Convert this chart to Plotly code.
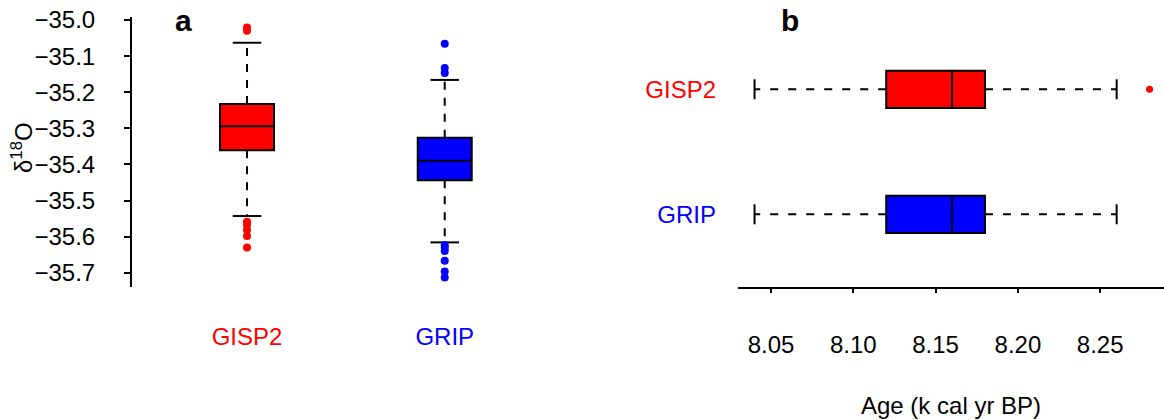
import plotly.graph_objects as go

# ---- Panel a: d18O summary per core ----
a_groups = ["GISP2", "GRIP"]
a_colors = ["#ff0000", "#0000ff"]
a_lower = [-35.543, -35.616]
a_q1 = [-35.361, -35.444]
a_median = [-35.294, -35.390]
a_q3 = [-35.233, -35.326]
a_upper = [-35.063, -35.166]
a_outliers = [
    [-35.021, -35.030, -35.559, -35.567, -35.582, -35.598, -35.630],
    [-35.066, -35.133, -35.147, -35.623, -35.630, -35.640, -35.667, -35.697, -35.713],
]
a_ticks = [-35.0, -35.1, -35.2, -35.3, -35.4, -35.5, -35.6, -35.7]

# ---- Panel b: age summary per core ----
b_groups = ["GISP2", "GRIP"]
b_colors = ["#ff0000", "#0000ff"]
b_lower = [8.04, 8.04]
b_q1 = [8.12, 8.12]
b_median = [8.16, 8.16]
b_q3 = [8.18, 8.18]
b_upper = [8.26, 8.26]
b_outliers = [[8.28], []]
b_ticks = [8.05, 8.10, 8.15, 8.20, 8.25]

W, H = 1164, 420
FONT = "Liberation Sans, Arial, sans-serif"


def fx(px):
    return px / W


def fy(py):
    return 1 - py / H


fig = go.Figure()

# panel a boxes (vertical)
a_pos = [i + 1 for i in range(len(a_groups))]
a_box_w = 0.273
a_cap_w = 0.072
for i, g in enumerate(a_groups):
    p = a_pos[i]
    fig.add_trace(go.Box(
        x=[p], q1=[a_q1[i]], median=[a_median[i]], q3=[a_q3[i]],
        lowerfence=[a_q1[i]], upperfence=[a_q3[i]],
        width=a_box_w, whiskerwidth=0, boxpoints=False,
        fillcolor=a_colors[i], line=dict(color="black", width=2),
        xaxis="x", yaxis="y", hoverinfo="skip",
    ))
    fig.add_trace(go.Scatter(
        x=[p, p, None, p, p], y=[a_q3[i], a_upper[i], None, a_q1[i], a_lower[i]],
        mode="lines", line=dict(color="black", width=2, dash="8px,8px"),
        xaxis="x", yaxis="y", hoverinfo="skip",
    ))
    fig.add_trace(go.Scatter(
        x=[p - a_cap_w, p + a_cap_w, None, p - a_cap_w, p + a_cap_w],
        y=[a_upper[i], a_upper[i], None, a_lower[i], a_lower[i]],
        mode="lines", line=dict(color="black", width=2),
        xaxis="x", yaxis="y", hoverinfo="skip",
    ))
    fig.add_trace(go.Scatter(
        x=[p] * len(a_outliers[i]), y=a_outliers[i], mode="markers",
        marker=dict(color=a_colors[i], size=8, line=dict(width=0)),
        xaxis="x", yaxis="y", hoverinfo="skip",
    ))

# panel b boxes (horizontal), first group on top
b_pos = [len(b_groups) - i for i in range(len(b_groups))]
b_box_w = 0.298
b_cap_w = 0.08
for i, g in enumerate(b_groups):
    p = b_pos[i]
    fig.add_trace(go.Box(
        y=[p], q1=[b_q1[i]], median=[b_median[i]], q3=[b_q3[i]],
        lowerfence=[b_q1[i]], upperfence=[b_q3[i]], orientation="h",
        width=b_box_w, whiskerwidth=0, boxpoints=False,
        fillcolor=b_colors[i], line=dict(color="black", width=2),
        xaxis="x2", yaxis="y2", hoverinfo="skip",
    ))
    fig.add_trace(go.Scatter(
        y=[p, p, None, p, p], x=[b_q3[i], b_upper[i], None, b_q1[i], b_lower[i]],
        mode="lines", line=dict(color="black", width=2, dash="8px,10px"),
        xaxis="x2", yaxis="y2", hoverinfo="skip",
    ))
    fig.add_trace(go.Scatter(
        y=[p - b_cap_w, p + b_cap_w, None, p - b_cap_w, p + b_cap_w],
        x=[b_upper[i], b_upper[i], None, b_lower[i], b_lower[i]],
        mode="lines", line=dict(color="black", width=2),
        xaxis="x2", yaxis="y2", hoverinfo="skip",
    ))
    if b_outliers[i]:
        fig.add_trace(go.Scatter(
            y=[p] * len(b_outliers[i]), x=b_outliers[i], mode="markers",
            marker=dict(color=b_colors[i], size=7, line=dict(width=0)),
            xaxis="x2", yaxis="y2", hoverinfo="skip",
        ))


def colored(labels, colors):
    return ['<span style="color:%s">%s</span>' % (c, t) for t, c in zip(labels, colors)]


tick_font = dict(family=FONT, size=24, color="black")

fig.update_layout(
    width=W, height=H,
    margin=dict(l=0, r=0, t=0, b=0, pad=0, autoexpand=False),
    paper_bgcolor="white", plot_bgcolor="white",
    showlegend=False,
    font=dict(family=FONT, size=24, color="black"),
    xaxis=dict(
        domain=[fx(132), fx(560)], range=[0.4183, 2.583], automargin=False,
        tickvals=a_pos, ticktext=colored(a_groups, a_colors),
        showline=False, showgrid=False, zeroline=False, ticks="",
        ticklabelstandoff=33, tickfont=tick_font,
    ),
    yaxis=dict(
        domain=[fy(287), fy(17)], range=[-35.7396, -34.9917], automargin=False,
        tickvals=a_ticks, ticktext=["\u221235.%d" % round(abs(v) * 10 % 10) for v in a_ticks],
        showline=True, linecolor="black", linewidth=2,
        ticks="outside", ticklen=6, tickwidth=2, tickcolor="black",
        showgrid=False, zeroline=False, ticklabelstandoff=24, tickfont=tick_font,
    ),
    xaxis2=dict(
        domain=[fx(738), 1.0], range=[8.02995, 8.28876], anchor="y2", automargin=False,
        tickvals=b_ticks, ticktext=["%.2f" % v for v in b_ticks],
        showline=True, linecolor="black", linewidth=2,
        ticks="outside", ticklen=4, tickwidth=2, tickcolor="black",
        showgrid=False, zeroline=False, ticklabelstandoff=31, tickfont=tick_font,
    ),
    yaxis2=dict(
        domain=[fy(286.7), 1.0], range=[0.4208, 2.714], anchor="x2", automargin=False,
        tickvals=b_pos, ticktext=colored(b_groups, b_colors),
        showline=False, showgrid=False, zeroline=False, ticks="",
        ticklabelstandoff=21, tickfont=tick_font,
    ),
)

ann = [
    dict(text="<b>a</b>", x=fx(183), y=fy(20), font=dict(size=30)),
    dict(text="<b>b</b>", x=fx(790), y=fy(20), font=dict(size=30)),
    dict(text="\u03b4<sup>18</sup>O", x=fx(22), y=fy(148), textangle=-90, font=dict(size=24)),
    dict(text="Age (k cal yr BP)", x=fx(951), y=fy(405), font=dict(size=24)),
]
for a in ann:
    fig.add_annotation(xref="paper", yref="paper", xanchor="center", yanchor="middle",
                       showarrow=False, **a)

fig.write_html("out.html")
